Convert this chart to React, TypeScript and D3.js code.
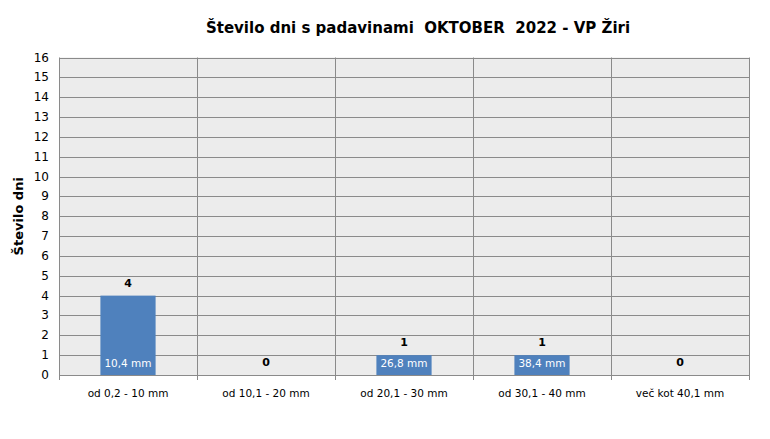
import { useEffect, useRef } from 'react';
import * as d3 from 'd3';

const categories = ['od 0,2 - 10 mm', 'od 10,1 - 20 mm', 'od 20,1 - 30 mm', 'od 30,1 - 40 mm', 'več kot 40,1 mm'];
const days = [4, 0, 1, 1, 0];
const amounts = ['10,4 mm', '', '26,8 mm', '38,4 mm', ''];
const yTicks = d3.range(0, 17);

const title = 'Število dni s padavinami  OKTOBER  2022 - VP Žiri';
const yTitle = 'Število dni';

const App = () => {
  const svgRef = useRef<SVGSVGElement>(null);

  const width = 770;
  const height = 439;
  const left = 59;
  const right = 749;
  const top = 57.5;
  const bottom = 375;

  useEffect(() => {
    if (!svgRef.current) return;
    const svg = d3.select(svgRef.current);
    svg.selectAll('*').remove();

    const font = 'Tahoma, "DejaVu Sans", Verdana, sans-serif';

    const x = d3.scaleBand().domain(categories).range([left, right]).paddingInner(0).paddingOuter(0);
    const y = d3.scaleLinear().domain([0, 16]).range([bottom, top]);
    const barW = x.bandwidth() * 0.4;

    // Plot background
    svg.append('rect')
      .attr('x', left).attr('y', top)
      .attr('width', right - left).attr('height', bottom - top)
      .attr('fill', '#ececec');

    // Horizontal gridlines
    svg.selectAll('.hgrid')
      .data(yTicks)
      .enter().append('line')
      .attr('x1', left).attr('x2', right)
      .attr('y1', d => Math.round(y(d)) + 0.5)
      .attr('y2', d => Math.round(y(d)) + 0.5)
      .attr('stroke', '#8a8a8a')
      .attr('stroke-width', 1);

    // Vertical gridlines at category boundaries
    const bounds = categories.map(c => x(c) || 0).concat([right]);
    svg.selectAll('.vgrid')
      .data(bounds)
      .enter().append('line')
      .attr('x1', d => Math.round(d) + 0.5).attr('x2', d => Math.round(d) + 0.5)
      .attr('y1', top).attr('y2', bottom + 5)
      .attr('stroke', '#8a8a8a')
      .attr('stroke-width', 1);

    // Y tick labels
    svg.selectAll('.ytick')
      .data(yTicks)
      .enter().append('text')
      .attr('x', 49)
      .attr('y', d => y(d) + 4)
      .attr('text-anchor', 'end')
      .attr('font-family', font)
      .attr('font-size', 12)
      .attr('fill', '#000')
      .text(d => d);

    // Bars
    svg.selectAll('.bar')
      .data(categories)
      .enter().append('rect')
      .attr('x', (d) => (x(d) || 0) + (x.bandwidth() - barW) / 2)
      .attr('y', (d, i) => y(days[i]))
      .attr('width', barW)
      .attr('height', (d, i) => y(0) - y(days[i]))
      .attr('fill', '#4f81bd');

    // Count labels
    svg.selectAll('.count')
      .data(categories)
      .enter().append('text')
      .attr('x', d => (x(d) || 0) + x.bandwidth() / 2)
      .attr('y', (d, i) => y(days[i]) - 9)
      .attr('text-anchor', 'middle')
      .attr('font-family', font)
      .attr('font-size', 11)
      .attr('font-weight', 'bold')
      .attr('fill', '#000')
      .text((d, i) => days[i]);

    // Amount labels inside bars
    svg.selectAll('.amount')
      .data(categories)
      .enter().append('text')
      .attr('x', d => (x(d) || 0) + x.bandwidth() / 2)
      .attr('y', y(0) - 8)
      .attr('text-anchor', 'middle')
      .attr('font-family', font)
      .attr('font-size', 10.5)
      .attr('fill', '#fff')
      .text((d, i) => amounts[i]);

    // Category labels
    svg.selectAll('.cat')
      .data(categories)
      .enter().append('text')
      .attr('x', d => (x(d) || 0) + x.bandwidth() / 2)
      .attr('y', 397)
      .attr('text-anchor', 'middle')
      .attr('font-family', font)
      .attr('font-size', 10.5)
      .attr('fill', '#000')
      .text(d => d);

    // Y axis title
    svg.append('text')
      .attr('transform', `translate(23, ${(top + bottom) / 2}) rotate(-90)`)
      .attr('text-anchor', 'middle')
      .attr('font-family', font)
      .attr('font-size', 13)
      .attr('font-weight', 'bold')
      .attr('fill', '#000')
      .text(yTitle);

    // Chart title
    svg.append('text')
      .attr('x', 418)
      .attr('y', 33)
      .attr('text-anchor', 'middle')
      .attr('font-family', font)
      .attr('font-size', 15)
      .attr('font-weight', 'bold')
      .attr('fill', '#000')
      .style('white-space', 'pre')
      .text(title);
  }, []);

  return (
    <svg
      ref={svgRef}
      width={width}
      height={height}
      style={{ display: 'block', position: 'absolute', left: 0, top: 0, background: '#fff' }}
    ></svg>
  );
};

export default App;
